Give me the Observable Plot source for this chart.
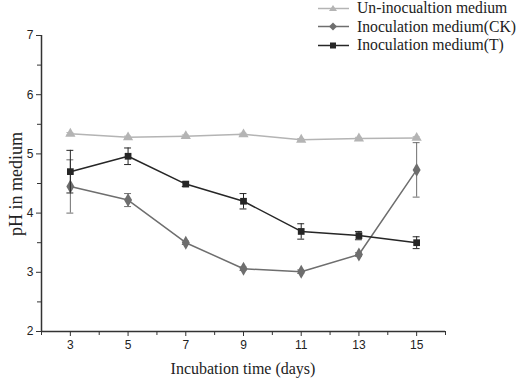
<!DOCTYPE html>
<html><head><meta charset="utf-8">
<script src="https://cdn.jsdelivr.net/npm/d3@7"></script>
<script src="https://cdn.jsdelivr.net/npm/@observablehq/plot@0.6"></script>
<style>
body{margin:0;background:#fff;}
#wrap{position:relative;width:520px;height:381px;}
#legend{position:absolute;left:317px;top:-1px;font-family:"Liberation Serif","Times New Roman",serif;font-size:15.7px;color:#222;}
#legend .row{display:flex;align-items:center;height:18.5px;}
#legend svg{margin-right:6px;}
.title{position:absolute;font-family:"Liberation Serif","Times New Roman",serif;color:#222;white-space:nowrap;}
#xt{left:243px;top:360px;font-size:16px;transform:translateX(-50%);}
#yt{left:16px;top:184px;font-size:18px;transform:translate(-50%,-50%) rotate(-90deg);}
</style>
</head><body>
<div id="wrap"><div id="chart"></div><div id="legend"></div>
<div class="title" id="xt"></div><div class="title" id="yt"></div></div>
<script>
const days = [3, 5, 7, 9, 11, 13, 15];
const seriesNames = ["Un-inocualtion medium", "Inoculation medium(CK)", "Inoculation medium(T)"];
const xTitle = "Incubation time (days)";
const yTitle = "pH in medium";
const unInoc = [5.34, 5.28, 5.30, 5.33, 5.24, 5.26, 5.27];
const unInocErr = [0.02, 0.02, 0.02, 0.02, 0.02, 0.02, 0.02];
const ck = [4.45, 4.22, 3.50, 3.06, 3.01, 3.30, 4.73];
const ckErr = [0.45, 0.11, 0.03, 0.03, 0.03, 0.03, 0.46];
const tr = [4.70, 4.96, 4.49, 4.20, 3.69, 3.62, 3.50];
const trErr = [0.36, 0.14, 0.04, 0.13, 0.13, 0.07, 0.10];
const xTicks = [3, 5, 7, 9, 11, 13, 15];
const xMinor = [2, 4, 6, 8, 10, 12, 14, 16];
const yTicks = [2, 3, 4, 5, 6, 7];
const yMinor = [2.5, 3.5, 4.5, 5.5, 6.5];

const colors = ["#b4b4b4", "#6e6e6e", "#262626"];
const symbols = ["triangle", "diamond", "square"];
const vals = [unInoc, ck, tr];
const errs = [unInocErr, ckErr, trErr];
const data = [];
seriesNames.forEach((s, i) => days.forEach((d, j) => data.push({series: s, day: d, ph: vals[i][j], err: errs[i][j], idx: i})));

const cap = 0.12;
const tickFont = "Liberation Sans, Arial, sans-serif";
const marks = [
  Plot.ruleX([2], {stroke: "#333", strokeWidth: 1.5}),
  Plot.ruleY([2], {stroke: "#333", strokeWidth: 1.5}),
  Plot.axisX({ticks: xTicks, tickSize: 5, tickPadding: 4, fontSize: 12, fontFamily: tickFont, tickFormat: d3.format("d"), label: null, stroke: "#333"}),
  Plot.axisX({ticks: xMinor, tickSize: 4, tickFormat: () => "", label: null, stroke: "#333"}),
  Plot.axisY({ticks: yTicks, tickSize: 5, tickPadding: 3, fontSize: 12, fontFamily: tickFont, tickFormat: d3.format("d"), label: null, stroke: "#333"}),
  Plot.axisY({ticks: yMinor, tickSize: 4, tickFormat: () => "", label: null, stroke: "#333"}),
];
seriesNames.forEach((s, i) => {
  const sd = data.filter(d => d.idx === i);
  marks.push(
    Plot.ruleX(sd, {x: "day", y1: d => d.ph - d.err, y2: d => d.ph + d.err, stroke: colors[i], strokeWidth: 1}),
    Plot.ruleY(sd, {y: d => d.ph - d.err, x1: d => d.day - cap, x2: d => d.day + cap, stroke: colors[i], strokeWidth: 1}),
    Plot.ruleY(sd, {y: d => d.ph + d.err, x1: d => d.day - cap, x2: d => d.day + cap, stroke: colors[i], strokeWidth: 1}),
    Plot.line(sd, {x: "day", y: "ph", stroke: colors[i], strokeWidth: 1.5}),
    Plot.dot(sd, {x: "day", y: "ph", symbol: () => symbols[i], fill: colors[i], stroke: "none", r: i === 1 ? 4.2 : 3.8})
  );
});

const chart = Plot.plot({
  width: 520, height: 381,
  marginLeft: 41, marginRight: 75, marginTop: 35, marginBottom: 50,
  x: {domain: [2, 16]},
  y: {domain: [2, 7]},
  symbol: {type: "identity"},
  style: {background: "white", color: "#222"},
  marks
});
document.getElementById("chart").appendChild(chart);
document.getElementById("xt").textContent = xTitle;
document.getElementById("yt").textContent = yTitle;

const legend = document.getElementById("legend");
const shapes = [
  c => `<polygon points="16,4 20,10 12,10" fill="${c}"/>`,
  c => `<polygon points="16,3.5 20,7.5 16,11.5 12,7.5" fill="${c}"/>`,
  c => `<rect x="13" y="4.5" width="6" height="6" fill="${c}"/>`
];
seriesNames.forEach((s, i) => {
  const row = document.createElement("div");
  row.className = "row";
  row.innerHTML = `<svg width="34" height="15"><line x1="1" x2="32" y1="7.5" y2="7.5" stroke="${colors[i]}" stroke-width="1.5"/>${shapes[i](colors[i])}</svg><span>${s}</span>`;
  legend.appendChild(row);
});
</script>
</body></html>
